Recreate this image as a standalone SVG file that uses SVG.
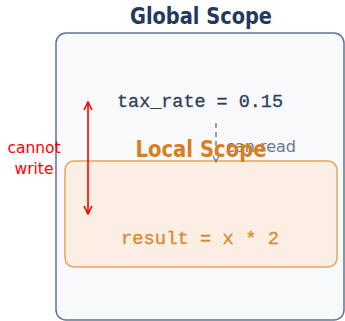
<svg xmlns="http://www.w3.org/2000/svg" width="345" height="321" viewBox="0 0 345 321">
<style>
.title{font-family:"DejaVu Sans","Liberation Sans",sans-serif;font-weight:bold;font-size:23px;text-anchor:middle}
.code{font-family:"Liberation Mono","DejaVu Sans Mono",monospace;font-size:19px;text-anchor:middle}
.lbl{font-family:"DejaVu Sans","Liberation Sans",sans-serif;font-size:15.5px}
</style>
<defs>
<marker id="ag" viewBox="0 0 10 10" refX="9" refY="5" markerWidth="8" markerHeight="8" markerUnits="userSpaceOnUse" orient="auto"><path d="M1,1 L9,5 L1,9" fill="none" stroke="#6b7a8e" stroke-width="1.4"/></marker>
<marker id="ar" viewBox="0 0 10 10" refX="9" refY="5" markerWidth="10" markerHeight="10" markerUnits="userSpaceOnUse" orient="auto-start-reverse"><path d="M1,1 L9,5 L1,9" fill="none" stroke="#ff0000" stroke-width="1.6"/></marker>
</defs>
<g id="global">
<rect x="56" y="33" width="288" height="287" rx="10" fill="#f7f9fb" stroke="#607590" stroke-width="1.5"/>
<text class="title" x="201" y="24" fill="#23395b" textLength="142" lengthAdjust="spacingAndGlyphs">Global Scope</text>
<text class="code" x="200" y="107" fill="#2c3e58" stroke="#2c3e58" stroke-width="0.3" textLength="166" lengthAdjust="spacingAndGlyphs">tax_rate = 0.15</text>
</g>
<g id="local">
<rect x="65" y="161" width="272" height="106" rx="9" fill="#fbeee3" stroke="#e8a55e" stroke-width="1.5"/>
<text class="code" x="200" y="244" fill="#d98a2e" stroke="#d98a2e" stroke-width="0.3" textLength="158" lengthAdjust="spacingAndGlyphs">result = x * 2</text>
</g>
<g id="connectors">
<line x1="216" y1="123" x2="216" y2="162" stroke="#6b7a8e" stroke-width="1.4" stroke-dasharray="5,4" marker-end="url(#ag)"/>
<text class="lbl" x="226" y="152" fill="#6b7a8e" textLength="70" lengthAdjust="spacingAndGlyphs">can read</text>
<line x1="88" y1="102" x2="88" y2="214" stroke="#ff0000" stroke-width="1.6" marker-start="url(#ar)" marker-end="url(#ar)"/>
<text class="lbl" x="34" y="153" fill="#ff0000" text-anchor="middle">cannot</text>
<text class="lbl" x="34" y="174" fill="#ff0000" text-anchor="middle">write</text>
</g>
<text class="title" x="201" y="157" fill="#d97f1e" textLength="131" lengthAdjust="spacingAndGlyphs">Local Scope</text>
</svg>
